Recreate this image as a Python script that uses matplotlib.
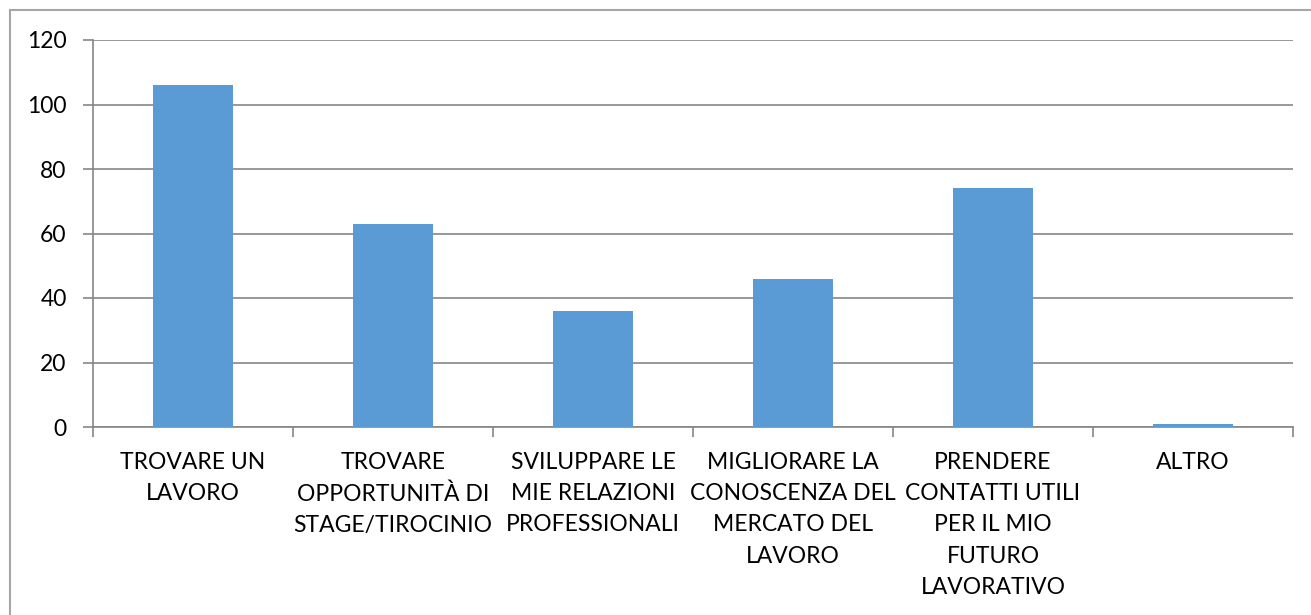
import numpy as np
import matplotlib
matplotlib.use("Agg")
import matplotlib.pyplot as plt
from matplotlib.lines import Line2D

plt.rcParams['font.family'] = ['Lato', 'DejaVu Sans']

categories = ["TROVARE UN\nLAVORO",
              "TROVARE\nOPPORTUNITÀ DI\nSTAGE/TIROCINIO",
              "SVILUPPARE LE\nMIE RELAZIONI\nPROFESSIONALI",
              "MIGLIORARE LA\nCONOSCENZA DEL\nMERCATO DEL\nLAVORO",
              "PRENDERE\nCONTATTI UTILI\nPER IL MIO\nFUTURO\nLAVORATIVO",
              "ALTRO"]
values = [106, 63, 36, 46, 74, 1]
yticks = [0, 20, 40, 60, 80, 100, 120]

W, H = 1311, 615
fig = plt.figure(figsize=(W / 100, H / 100), dpi=100)
ax = fig.add_axes([93 / W, 1 - 427 / H, 1200 / W, 387 / H])

x = np.arange(len(values))
ax.bar(x, values, width=0.4, color='#5b9bd5', zorder=3)

ax.set_xlim(-0.5, len(values) - 0.5)
ax.set_ylim(0, 120)
ax.set_yticks(yticks)
ax.yaxis.grid(True, color='#868686', linewidth=1.2, zorder=0)

# category boundaries get the tick marks, labels sit in the middle
ax.set_xticks(np.arange(len(values) + 1) - 0.5)
ax.set_xticklabels([])
ax.set_xticks(x, minor=True)
ax.set_xticklabels(categories, minor=True, fontsize=16.5, linespacing=1.6)
ax.tick_params(axis='x', which='minor', length=0, pad=18)
ax.tick_params(axis='x', which='major', length=7, color='#868686', width=1.2)
ax.tick_params(axis='y', length=7, color='#868686', width=1.2, labelsize=16.5, pad=12)

for s in ['top', 'right']:
    ax.spines[s].set_visible(False)
for s in ['left', 'bottom']:
    ax.spines[s].set_color('#868686')
    ax.spines[s].set_linewidth(1.2)

# outer chart frame, runs off the right and bottom edges
fig.add_artist(Line2D([10 / W, 1.0], [1 - 10 / H, 1 - 10 / H], color='#a6a6a6', linewidth=1.5))
fig.add_artist(Line2D([10 / W, 10 / W], [1 - 10 / H, 0.0], color='#a6a6a6', linewidth=1.5))

fig.savefig("out.png", dpi=100)
